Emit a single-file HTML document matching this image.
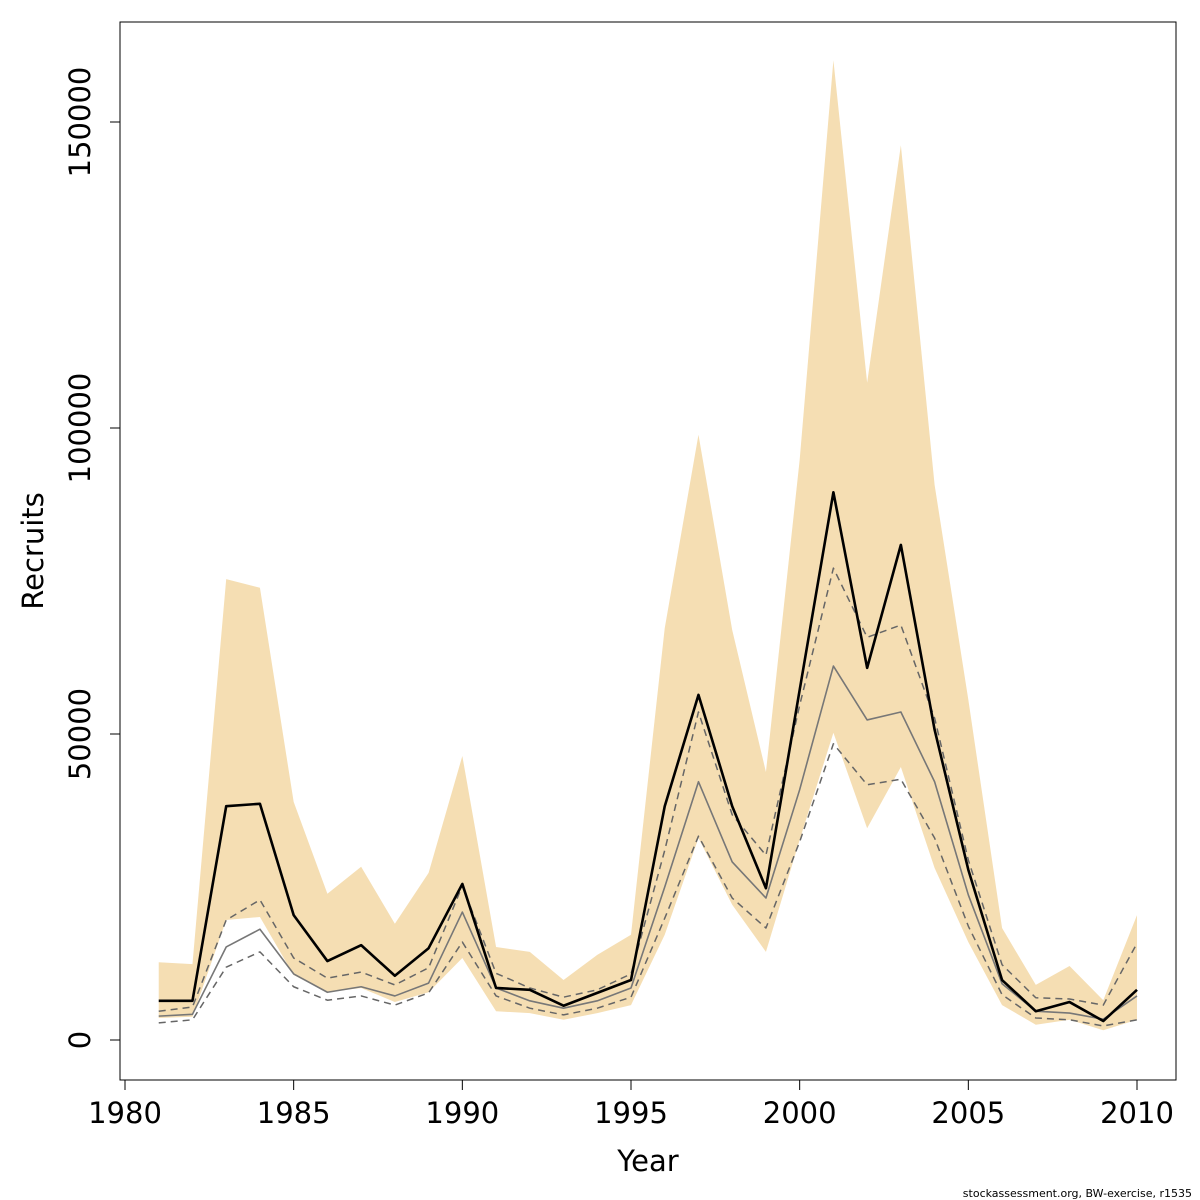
<!DOCTYPE html>
<html><head><meta charset="utf-8"><style>
html,body{margin:0;padding:0;background:#fff;}
svg{display:block;font-family:"DejaVu Sans","Liberation Sans",sans-serif;}
</style></head><body>
<svg id="chart" width="1200" height="1200" viewBox="0 0 1200 1200"></svg>
<script>
const years=[1981,1982,1983,1984,1985,1986,1987,1988,1989,1990,1991,1992,1993,1994,1995,1996,1997,1998,1999,2000,2001,2002,2003,2004,2005,2006,2007,2008,2009,2010];
const bandUpper=[12700,12400,75300,73900,38900,23900,28300,19000,27300,46400,15200,14400,9800,13900,17200,67300,98900,67000,43800,94800,160100,107400,146200,90700,55600,18300,9000,12100,6500,20400];
const bandLower=[3600,3800,19600,20100,10600,7800,8500,6200,7800,13400,4700,4400,3300,4400,5700,17200,33000,22100,14400,32700,50200,34600,44600,28100,16000,5700,2500,3300,1600,3300];
const recruitsMain=[6400,6400,38200,38600,20400,12900,15500,10500,15000,25500,8500,8200,5600,7700,9800,38200,56400,38200,24800,57200,89500,60800,80900,50700,27800,9800,4700,6200,3100,8200];
const recruitsGray=[3900,4200,15200,18100,10800,7800,8700,7200,9300,20900,8500,6400,5200,6400,8500,25000,42200,29100,23200,40900,61100,52300,53600,42200,23700,9200,4700,4400,3400,7200];
const dashUpper=[4700,5400,19600,22900,13400,10100,11100,9000,11800,25200,10900,8500,7000,8200,10800,31000,53600,36800,30200,54700,77100,65800,67800,52600,29400,12300,6900,6700,5700,15800];
const dashLower=[2800,3300,11900,14400,8700,6500,7200,5700,7700,16000,7200,5200,4100,5200,7000,19900,33300,23200,18300,32400,48400,41700,42600,33000,18600,7400,3600,3300,2300,3300];
const xTicks=[1980,1985,1990,1995,2000,2005,2010];
const yTicks=[0,50000,100000,150000];

const NS="http://www.w3.org/2000/svg";
const svg=document.getElementById('chart');
const X=v=>125+(v-1980)*(1012/30);
const Y=v=>1040-v*(306/50000);
function mk(t,a,p){const e=document.createElementNS(NS,t);for(const k in a)e.setAttribute(k,a[k]);(p||svg).appendChild(e);return e;}

let d='';
years.forEach((yr,i)=>{d+=(i?'L':'M')+X(yr)+','+Y(bandUpper[i]);});
for(let i=years.length-1;i>=0;i--)d+='L'+X(years[i])+','+Y(bandLower[i]);
const band=mk('path',{d:d+'Z',fill:'#f5deb3',stroke:'none'});



function line(arr,stroke,w,dash,name){
  const pts=years.map((yr,i)=>X(yr)+','+Y(arr[i])).join(' ');
  const a={points:pts,fill:'none',stroke:stroke,'stroke-width':w,'stroke-linejoin':'round'};
  if(dash)a['stroke-dasharray']=dash;
  const e=mk('polyline',a);
  
  
}
line(dashUpper,'#666',1.5,'7,5','upper-dashed-line');
line(dashLower,'#666',1.5,'7,5','lower-dashed-line');
line(recruitsGray,'#777',1.6,null,'gray-recruits-line');
line(recruitsMain,'#000',2.6,null,'recruits-line');

const box=mk('rect',{x:120,y:22,width:1056,height:1058,fill:'none',stroke:'#000','stroke-width':1});



mk('line',{x1:X(1980),x2:X(2010),y1:1080,y2:1080,stroke:'#000'});
xTicks.forEach(t=>{
  mk('line',{x1:X(t),x2:X(t),y1:1080,y2:1090,stroke:'#000'});
  const e=mk('text',{x:X(t),y:1123,'text-anchor':'middle','font-size':29,fill:'#000'});
  e.textContent=t;
  
  
});
mk('line',{x1:120,x2:120,y1:Y(0),y2:Y(150000),stroke:'#000'});
yTicks.forEach(t=>{
  mk('line',{x1:110,x2:120,y1:Y(t),y2:Y(t),stroke:'#000'});
  const e=mk('text',{x:90,y:Y(t),'text-anchor':'middle','font-size':29,fill:'#000',transform:`rotate(-90 90 ${Y(t)})`});
  e.textContent=t;
  
  
});
const xt=mk('text',{x:648,y:1171,'text-anchor':'middle','font-size':29,fill:'#000'});
xt.textContent='Year';


const yt=mk('text',{x:43,y:551,'text-anchor':'middle','font-size':29,fill:'#000',transform:'rotate(-90 43 551)'});
yt.textContent='Recruits';


const ft=mk('text',{x:1192,y:1197,'text-anchor':'end','font-size':11,fill:'#000'});
ft.textContent='stockassessment.org, BW-exercise, r1535';


</script>
</body></html>
